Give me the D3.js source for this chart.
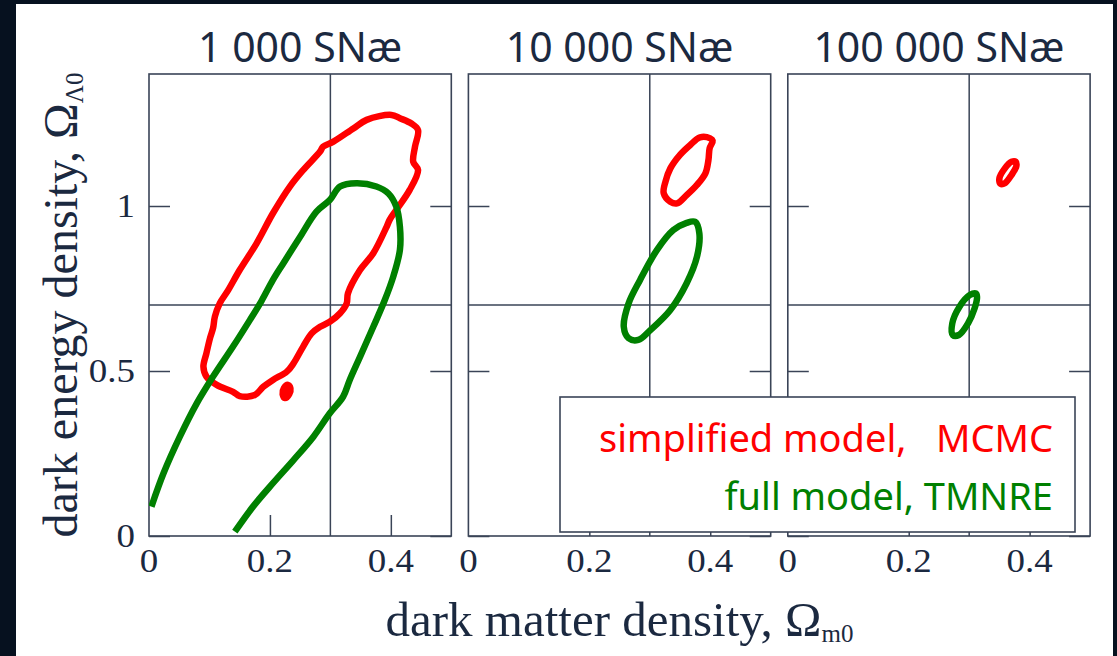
<!DOCTYPE html>
<html>
<head>
<meta charset="utf-8">
<script src="https://cdn.jsdelivr.net/npm/d3@7/dist/d3.min.js"></script>
<style>
  html, body { margin: 0; padding: 0; background: #06111f; }
  svg { display: block; }
  .serif { font-family: "Liberation Serif", "DejaVu Serif", serif; }
  .sans { font-family: "Noto Sans", "Open Sans", sans-serif; }
</style>
</head>
<body>
<svg id="chart" width="1117" height="656"></svg>
<script>
// Panel titles (number of simulated supernovae)
const panelTitles = ["1 000 SNæ", "10 000 SNæ", "100 000 SNæ"];
const xTickValues = [0, 0.2, 0.4];
const yTickValues = [0, 0.5, 1];
const xDomain = [0, 0.5];
const yDomain = [0, 1.4];
// fiducial cosmology marked by the cross-hair lines
const trueOm = 0.3;
const trueOL = 0.7;

// Contours as [Omega_m0, Omega_Lambda0] pairs
// 1 000 SNae — simplified model, MCMC (closed)
const mcmc1k = [
  [0.401,1.276],[0.360,1.261],[0.338,1.235],[0.305,1.195],[0.288,1.180],[0.283,1.165],
  [0.255,1.109],[0.233,1.059],[0.205,0.978],[0.178,0.887],[0.150,0.806],[0.131,0.745],
  [0.117,0.705],[0.109,0.665],[0.106,0.630],[0.101,0.600],[0.095,0.554],[0.090,0.513],
  [0.095,0.483],[0.112,0.458],[0.139,0.437],[0.150,0.424],[0.175,0.427],[0.189,0.452],
  [0.205,0.473],[0.228,0.498],[0.239,0.523],[0.255,0.574],[0.269,0.614],[0.283,0.634],
  [0.299,0.649],[0.316,0.675],[0.327,0.705],[0.329,0.735],[0.349,0.806],[0.371,0.857],
  [0.393,0.937],[0.398,0.958],[0.409,0.988],[0.431,1.048],[0.445,1.109],[0.437,1.134],
  [0.440,1.180],[0.445,1.230],[0.434,1.250],[0.415,1.266]
];
// small isolated island of the same contour
const mcmc1kIsland = [
  [0.225,0.418],[0.232,0.430],[0.234,0.447],[0.230,0.458],[0.223,0.448],[0.221,0.430]
];
// 1 000 SNae — full model, TMNRE (open, leaves the plotted range)
const tmnre1k = [
  [0.004,0.089],[0.024,0.190],[0.051,0.301],[0.079,0.402],[0.106,0.483],[0.139,0.574],
  [0.167,0.655],[0.186,0.712],[0.205,0.776],[0.222,0.826],[0.250,0.907],[0.277,0.983],
  [0.299,1.018],[0.316,1.059],[0.343,1.069],[0.376,1.059],[0.396,1.038],[0.409,0.998],
  [0.415,0.937],[0.415,0.867],[0.404,0.786],[0.390,0.715],[0.371,0.634],[0.349,0.543],
  [0.332,0.473],[0.321,0.422],[0.299,0.372],[0.272,0.301],[0.239,0.230],[0.205,0.160],
  [0.172,0.089],[0.142,0.013]
];
// 10 000 SNae
const mcmc10k = [
  [0.400,1.205],[0.383,1.208],[0.367,1.185],[0.350,1.155],[0.334,1.114],[0.326,1.074],
  [0.323,1.039],[0.334,1.013],[0.345,1.008],[0.361,1.033],[0.378,1.064],[0.392,1.099],
  [0.397,1.139],[0.399,1.175],[0.404,1.198]
];
const tmnre10k = [
  [0.375,0.952],[0.361,0.949],[0.339,0.927],[0.312,0.867],[0.284,0.776],[0.265,0.705],
  [0.257,0.634],[0.265,0.599],[0.281,0.594],[0.301,0.624],[0.334,0.685],[0.361,0.766],
  [0.378,0.846],[0.382,0.917]
];
// 100 000 SNae
const mcmc100k = [
  [0.377,1.134],[0.370,1.134],[0.359,1.114],[0.350,1.084],[0.352,1.067],[0.359,1.069],
  [0.370,1.094],[0.378,1.121]
];
const tmnre100k = [
  [0.311,0.735],[0.301,0.730],[0.284,0.695],[0.272,0.644],[0.273,0.609],[0.283,0.609],
  [0.298,0.644],[0.309,0.690],[0.313,0.724]
];

const panels = [
  { title: panelTitles[0], red: [mcmc1k, mcmc1kIsland], green: [tmnre1k], greenOpen: true },
  { title: panelTitles[1], red: [mcmc10k], green: [tmnre10k], greenOpen: false },
  { title: panelTitles[2], red: [mcmc100k], green: [tmnre100k], greenOpen: false }
];

const ink = "#1b2940";
const frame = "#3a4457";
const redC = "#ff0000";
const greenC = "#008000";

const svg = d3.select("#chart");
svg.append("rect").attr("x", 16).attr("y", 4).attr("width", 1097).attr("height", 652).attr("fill", "#ffffff");

const panelTop = 74, panelBottom = 536;
const panelW = 302.3, panelStep = 319.4, firstLeft = 149;

const y = d3.scaleLinear().domain(yDomain).range([panelBottom, panelTop]);

panels.forEach((p, i) => {
  const left = firstLeft + i * panelStep;
  const x = d3.scaleLinear().domain(xDomain).range([left, left + panelW]);
  const g = svg.append("g");

  const clipId = "clip" + i;
  svg.append("clipPath").attr("id", clipId).append("rect")
    .attr("x", left).attr("y", panelTop).attr("width", panelW).attr("height", panelBottom - panelTop);

  // cross-hair at the fiducial values
  g.append("line").attr("x1", x(trueOm)).attr("x2", x(trueOm)).attr("y1", panelTop).attr("y2", panelBottom)
    .attr("stroke", frame).attr("stroke-width", 1.5);
  g.append("line").attr("x1", left).attr("x2", left + panelW).attr("y1", y(trueOL)).attr("y2", y(trueOL))
    .attr("stroke", frame).attr("stroke-width", 1.5);

  // inward ticks: bottom axis and both vertical sides
  const tickLen = 21;
  const bottomAxis = d3.axisTop(x).tickValues(xTickValues.filter(v => v > 0)).tickSize(tickLen).tickFormat("");
  g.append("g").attr("transform", `translate(0,${panelBottom})`).call(bottomAxis)
    .call(a => a.select(".domain").remove())
    .selectAll("line").attr("stroke", frame).attr("stroke-width", 1.5);
  const leftAxis = d3.axisRight(y).tickValues(yTickValues).tickSize(tickLen).tickFormat("");
  g.append("g").attr("transform", `translate(${left},0)`).call(leftAxis)
    .call(a => a.select(".domain").remove())
    .selectAll("line").attr("stroke", frame).attr("stroke-width", 1.5);
  const rightAxis = d3.axisLeft(y).tickValues(yTickValues).tickSize(tickLen).tickFormat("");
  g.append("g").attr("transform", `translate(${left + panelW},0)`).call(rightAxis)
    .call(a => a.select(".domain").remove())
    .selectAll("line").attr("stroke", frame).attr("stroke-width", 1.5);

  // frame
  g.append("rect").attr("x", left).attr("y", panelTop).attr("width", panelW).attr("height", panelBottom - panelTop)
    .attr("fill", "none").attr("stroke", frame).attr("stroke-width", 1.6);

  // x tick labels
  g.selectAll("text.xt").data(xTickValues).join("text")
    .attr("class", "serif")
    .attr("text-anchor", "middle")
    .attr("font-size", 33)
    .attr("fill", ink)
    .attr("transform", d => `translate(${x(d)},572) scale(1.12,1)`)
    .text(d => d === 0 ? "0" : d3.format(".1f")(d));

  // panel title
  g.append("text").attr("class", "sans")
    .attr("x", left + panelW / 2).attr("y", 62)
    .attr("text-anchor", "middle").attr("font-size", 41).attr("fill", ink)
    .text(p.title);

  // contours
  const closed = d3.line().x(d => x(d[0])).y(d => y(d[1])).curve(d3.curveCatmullRomClosed.alpha(0.5));
  const open = d3.line().x(d => x(d[0])).y(d => y(d[1])).curve(d3.curveCatmullRom.alpha(0.5));
  const cg = g.append("g").attr("clip-path", `url(#${clipId})`);
  p.red.forEach(c => {
    cg.append("path").attr("d", closed(c)).attr("fill", c.length < 8 ? redC : "none")
      .attr("stroke", redC).attr("stroke-width", 6.5).attr("stroke-linejoin", "round");
  });
  p.green.forEach(c => {
    cg.append("path").attr("d", p.greenOpen ? open(c) : closed(c)).attr("fill", "none")
      .attr("stroke", greenC).attr("stroke-width", 6.5).attr("stroke-linejoin", "round").attr("stroke-linecap", "butt");
  });
});

// y tick labels on the first panel only
svg.selectAll("text.yt").data(yTickValues).join("text")
  .attr("class", "serif")
  .attr("text-anchor", "end")
  .attr("font-size", 33)
  .attr("fill", ink)
  .attr("transform", d => `translate(135,${y(d) + 11}) scale(1.12,1)`)
  .text(d => d === 0 ? "0" : (d === 1 ? "1" : "0.5"));

// axis titles
const xLabel = svg.append("text").attr("class", "serif")
  .attr("x", 619.5).attr("y", 636).attr("text-anchor", "middle")
  .attr("font-size", 49).attr("fill", ink);
xLabel.append("tspan").text("dark matter density, Ω");
xLabel.append("tspan").attr("font-size", 25).attr("dy", 6).text("m0");

const yLabel = svg.append("text").attr("class", "serif")
  .attr("transform", "translate(77,305) rotate(-90)").attr("text-anchor", "middle")
  .attr("font-size", 48).attr("fill", ink);
yLabel.append("tspan").text("dark energy density, Ω");
yLabel.append("tspan").attr("font-size", 25).attr("dy", 6).text("Λ0");

// legend
const legend = svg.append("g");
legend.append("rect").attr("x", 560).attr("y", 397).attr("width", 515).attr("height", 135)
  .attr("fill", "#ffffff").attr("stroke", frame).attr("stroke-width", 1.6);
legend.append("text").attr("class", "sans")
  .attr("x", 1053).attr("y", 452).attr("text-anchor", "end")
  .attr("font-size", 38).attr("fill", redC)
  .style("white-space", "pre")
  .text("simplified model,   MCMC");
legend.append("text").attr("class", "sans")
  .attr("x", 1053).attr("y", 510).attr("text-anchor", "end")
  .attr("font-size", 38).attr("fill", greenC)
  .text("full model, TMNRE");
</script>
</body>
</html>
